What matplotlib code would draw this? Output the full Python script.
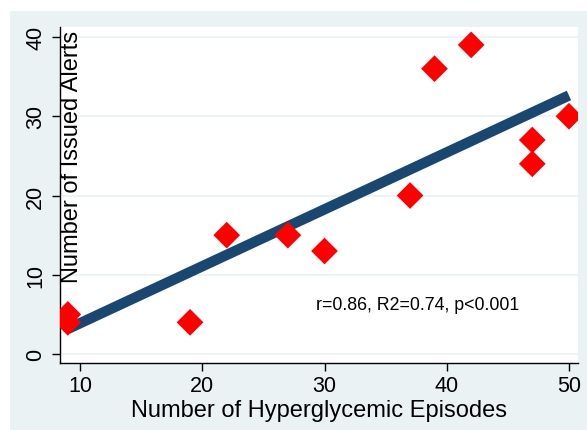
import numpy as np
import matplotlib
matplotlib.use('Agg')
import matplotlib.pyplot as plt
from matplotlib.patches import Rectangle

# Data
episodes = [9, 9, 19, 22, 27, 30, 37, 39, 42, 47, 47, 50]
alerts = [5, 4, 4, 15, 15, 13, 20, 36, 39, 27, 24, 30]
x_ticks = [10, 20, 30, 40, 50]
y_ticks = [0, 10, 20, 30, 40]
stats_text = "r=0.86, R2=0.74, p<0.001"

plt.rcParams['font.family'] = ['Liberation Sans', 'DejaVu Sans']

fig = plt.figure(figsize=(5.87, 4.31), dpi=100)
fig.patch.set_facecolor('white')
fig.patches.append(Rectangle((10 / 587, 0), 1, 1 - 12 / 431, transform=fig.transFigure,
                             facecolor='#eaf2f3', edgecolor='none', zorder=-5))

ax = fig.add_axes([60 / 587, 1 - 364 / 431, 518 / 587, 336 / 431])
ax.set_zorder(1)
ax.set_facecolor('white')

# Linear fit
slope, intercept = np.polyfit(episodes, alerts, 1)
xs = np.array([min(episodes), max(episodes)])
ax.plot(xs, slope * xs + intercept, color='#1a476f', lw=7.5, solid_capstyle='butt', zorder=2)

ax.scatter(episodes, alerts, marker='D', s=185, color='red', edgecolors='none', zorder=3)

ax.text(29.3, 6.2, stats_text, fontsize=12.8, ha='left', va='center')

ax.set_xlim(8.36, 50.74)
ax.set_ylim(-1.13, 41.26)
ax.set_xticks(x_ticks)
ax.set_yticks(y_ticks)
ax.tick_params(axis='both', labelsize=15.5, length=6, width=1, color='black')
ax.tick_params(axis='x', pad=3)
ax.tick_params(axis='y', pad=4)
for lbl in ax.get_yticklabels():
    lbl.set_rotation(90)
    lbl.set_va('center')

ax.grid(axis='y', color='#eaf2f3', lw=1.2)
ax.set_axisbelow(True)
for s in ['top', 'right']:
    ax.spines[s].set_visible(False)
for s in ['left', 'bottom']:
    ax.spines[s].set_linewidth(1)

ax.set_xlabel('Number of Hyperglycemic Episodes', fontsize=17, labelpad=2)
ax.text(72 / 587, 1 - 157 / 431, 'Number of Issued Alerts', rotation=90,
        fontsize=17, ha='center', va='center', transform=fig.transFigure, zorder=4)

fig.savefig('out.png', dpi=100)
